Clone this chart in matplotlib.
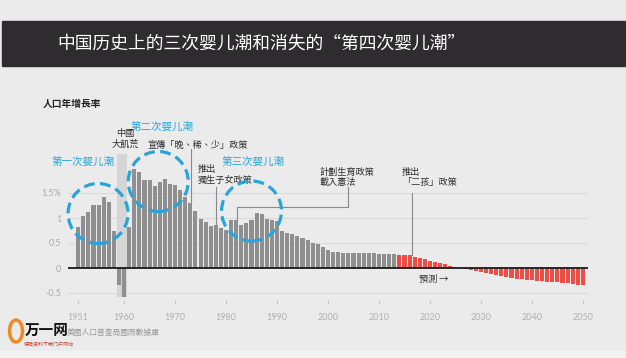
import numpy as np
import matplotlib
matplotlib.use('Agg')
import matplotlib.pyplot as plt
from matplotlib.patches import Ellipse, Rectangle

# ---------------- data ----------------
hist_years = list(range(1951, 2014))
hist_values = [0.83, 1.05, 1.12, 1.26, 1.27, 1.43, 1.33, 0.74, -0.34, -0.57,
               0.83, 1.99, 1.93, 1.76, 1.77, 1.64, 1.73, 1.79, 1.69, 1.66,
               1.57, 1.42, 1.31, 1.15, 0.99, 0.93, 0.84, 0.87, 0.81, 0.77,
               0.96, 0.97, 0.87, 0.91, 0.97, 1.11, 1.09, 0.99, 0.97, 0.95,
               0.74, 0.71, 0.68, 0.65, 0.60, 0.57, 0.51, 0.48, 0.43, 0.37,
               0.33, 0.32, 0.31, 0.31, 0.31, 0.31, 0.30, 0.30, 0.30, 0.29,
               0.29, 0.28, 0.28]
proj_years = list(range(2014, 2051))
proj_values = [0.27, 0.27, 0.26, 0.23, 0.21, 0.18, 0.15, 0.13, 0.11, 0.08,
               0.05, 0.02, -0.005, -0.01, -0.03, -0.05, -0.08, -0.10, -0.12, -0.14,
               -0.16, -0.18, -0.20, -0.21, -0.22, -0.23, -0.24, -0.25, -0.26, -0.27,
               -0.27, -0.28, -0.29, -0.30, -0.31, -0.33, -0.34]
xtick_years = [1951, 1960, 1970, 1980, 1990, 2000, 2010, 2020, 2030, 2040, 2050]
ytick_values = [-0.5, 0, 0.5, 1, 1.5]
ytick_labels = ['-0.5', '0', '0.5', '1', '1.5%']
grid_values = [-0.5, 0.5, 1, 1.5]

title = '中国历史上的三次婴儿潮和消失的“第四次婴儿潮”'
ylabel = '人口年增長率'
source = '美國人口普查局國際數據庫'

TC = ['Noto Sans CJK TC', 'DejaVu Sans']
SC = ['Noto Sans CJK SC', 'DejaVu Sans']

BG = '#ebebeb'
GRAY = '#8f8f8f'
RED = '#ea4f47'
BLUE = '#27a5db'
ANN = '#2e2e2e'
LINE = '#8a8a8a'

W, H = 626, 358
fig = plt.figure(figsize=(W / 100, H / 100), dpi=100)
fig.patch.set_facecolor(BG)

# title band
fig.patches.append(Rectangle((2 / W, 1 - 66 / H), 1, 45 / H, transform=fig.transFigure,
                             color='#2e2c2f', zorder=0))
fig.text(261 / W, 1 - 43.5 / H, title, ha='center', va='center', color='white',
         fontsize=12.8, fontweight='medium', family=SC)
# bottom edge
fig.patches.append(Rectangle((0, 0), 1, 7 / H, transform=fig.transFigure,
                             color='#f2f2f2', zorder=0))

ax = fig.add_axes([68 / W, 1 - 300 / H, 520 / W, 190 / H])
ax.set_facecolor(BG)
ax.set_xlim(1949, 2051)
ax.set_ylim(-0.64, 3.16)
for s in ax.spines.values():
    s.set_visible(False)

for g in grid_values:
    ax.axhline(g, color='#d9d9d9', lw=0.8, zorder=0)

# famine band
ax.add_patch(Rectangle((1958.55, -0.57), 2.0, 2.85, color='#d5d5d5', zorder=1, lw=0))

ax.bar(hist_years, hist_values, width=0.8, color=GRAY, zorder=2)
ax.bar(proj_years, proj_values, width=0.8, color=RED, zorder=2)
ax.axhline(0, color='#1a1a1a', lw=1.3, zorder=3)

ax.set_xticks(xtick_years)
ax.set_xticklabels([str(y) for y in xtick_years], family=['Lato', 'DejaVu Sans'])
ax.tick_params(axis='x', length=3, color='#c4c4c4', labelcolor='#b0b0b0',
               labelsize=6.5, pad=6)
ax.set_yticks(ytick_values)
ax.set_yticklabels(ytick_labels, family=['Lato', 'DejaVu Sans'])
ax.tick_params(axis='y', length=0, labelcolor='#ababab', labelsize=6.5, pad=5)

# dashed circles
for cx, cy in [(1954.9, 1.09), (1966.7, 1.73), (1985.0, 1.14)]:
    ax.add_patch(Ellipse((cx, cy), width=60 / 5.1, height=60 / 50, fill=False,
                         ec=BLUE, lw=2.3, ls=(0, (3.4, 1.7)), zorder=5, clip_on=False))

# blue labels
bkw = dict(color=BLUE, fontsize=7.6, ha='center', va='center', family=SC, fontweight='medium')
ax.text(1952.0, 2.12, '第一次婴儿潮', **bkw)
ax.text(1967.5, 2.82, '第二次婴儿潮', **bkw)
ax.text(1985.2, 2.12, '第三次婴儿潮', **bkw)

# annotations
kw = dict(color=ANN, fontsize=6.6, family=TC, clip_on=False, linespacing=1.15)
ax.text(1960.2, 2.58, '中國\n大飢荒', ha='center', va='center', **kw)
ax.text(1964.6, 2.46, '宣傳「晚、稀、少」政策', ha='left', va='center', **kw)
ax.plot([1973.2, 1973.2], [2.38, 1.32], color=LINE, lw=0.8, zorder=4)
ax.text(1974.4, 1.86, '推出\n獨生子女政策', ha='left', va='center', **kw)
ax.plot([1978.1, 1978.1], [1.62, 0.88], color=LINE, lw=0.8, zorder=4)
ax.text(1998.4, 1.82, '計劃生育政策\n載入憲法', ha='left', va='center', **kw)
ax.plot([2003.9, 2003.9, 1982.2, 1982.2], [1.62, 1.22, 1.22, 0.98], color=LINE, lw=0.8, zorder=4)
ax.text(2014.5, 1.81, '推出\n「二孩」政策', ha='left', va='center', **kw)
ax.plot([2016.5, 2016.5], [1.50, 0.27], color=LINE, lw=0.8, zorder=4)
ax.text(2017.8, -0.22, '預測 →', ha='left', va='center', **kw)

# y-label
fig.text(43 / W, 1 - 104 / H, ylabel, ha='left', va='center', fontsize=7,
         fontweight='bold', color='#222222', family=TC)

# footer
fig.text(67 / W, 1 - 333 / H, source, ha='left', va='center', fontsize=5.6,
         color='#9a9a9a', family=TC)
fig.patches.append(Ellipse((16 / W, 1 - 331 / H), 13 / W, 22 / H, transform=fig.transFigure,
                           fc='none', ec='#f08a24', lw=2.5))
fig.text(25 / W, 1 - 330 / H, '万一网', ha='left', va='center', fontsize=10.5,
         fontweight='bold', color='#111111', family=SC)
fig.text(24 / W, 1 - 345 / H, '保险资料下载门户网站', ha='left', va='center', fontsize=3.6,
         color='#d23a2a', family=SC)

fig.savefig('out.png', dpi=100, facecolor=BG)
